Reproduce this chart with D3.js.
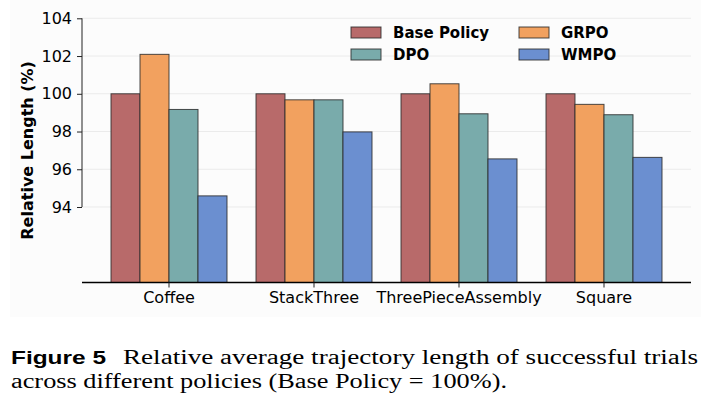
<!DOCTYPE html>
<html>
<head>
<meta charset="utf-8">
<script src="https://cdn.jsdelivr.net/npm/d3@7"></script>
<style>
  body { margin: 0; background: #fff; }
  svg { display: block; }
</style>
</head>
<body>
<div id="chart"></div>
<script>
// Tasks and policies
const tasks = ["Coffee", "StackThree", "ThreePieceAssembly", "Square"];
const policies = ["Base Policy", "GRPO", "DPO", "WMPO"];

// Relative length (%) per policy, one value per task
const basePolicy = [100, 100, 100, 100];
const grpo = [102.09, 99.68, 100.53, 99.44];
const dpo = [99.17, 99.68, 98.94, 98.89];
const wmpo = [94.59, 97.98, 96.55, 96.63];

const yTicks = [94, 96, 98, 100, 102, 104];

const colors = ["#b86a6a", "#f2a15f", "#79abab", "#6b8fd0"];
const seriesValues = [basePolicy, grpo, dpo, wmpo];

// table used for the bars
const tableData = tasks.map((t, i) => ({
    task: t,
    values: policies.map((p, j) => ({ policy: p, value: seriesValues[j][i], color: colors[j] }))
}));

const W = 713, H = 410;
const svg = d3.select("#chart")
    .append("svg")
    .attr("width", W)
    .attr("height", H);

// faint figure background
svg.append("rect")
    .attr("x", 10).attr("y", 0)
    .attr("width", 691).attr("height", 317)
    .attr("fill", "#fcfcfc");

// Plot area
const plotLeft = 82, plotRight = 691, plotTop = 18.3, plotBottom = 282.5;

const x = d3.scaleBand()
    .domain(tasks)
    .range([plotLeft, plotRight])
    .paddingInner(0.2)
    .paddingOuter(0.2);

const xSub = d3.scaleBand()
    .domain(policies)
    .range([0, x.bandwidth()]);

const y = d3.scaleLinear()
    .domain([90, 104])
    .range([plotBottom, plotTop]);

// grid lines
svg.append("g")
    .selectAll("line")
    .data(yTicks)
    .join("line")
    .attr("x1", plotLeft)
    .attr("x2", plotRight)
    .attr("y1", d => y(d))
    .attr("y2", d => y(d))
    .attr("stroke", "#ebebeb")
    .attr("stroke-width", 1);

// Bars
const groups = svg.append("g")
    .selectAll("g")
    .data(tableData)
    .join("g")
    .attr("transform", d => `translate(${x(d.task)},0)`);

groups.selectAll("rect")
    .data(d => d.values)
    .join("rect")
    .attr("x", d => xSub(d.policy))
    .attr("y", d => y(d.value))
    .attr("width", xSub.bandwidth())
    .attr("height", d => y(90) - y(d.value))
    .attr("fill", d => d.color)
    .attr("stroke", "#2b2b2b")
    .attr("stroke-opacity", 0.85)
    .attr("stroke-width", 1);

// Y axis (spine trimmed to 94..104)
const yAxis = svg.append("g")
    .attr("transform", `translate(${plotLeft},0)`)
    .call(d3.axisLeft(y).tickValues(yTicks).tickSize(5).tickPadding(5));
yAxis.select(".domain")
    .attr("d", `M0,${y(94)}V${y(104)}`)
    .attr("stroke", "#222");
yAxis.selectAll(".tick line").attr("stroke", "#222");
yAxis.selectAll("text")
    .attr("font-family", "DejaVu Sans")
    .attr("font-size", 16)
    .attr("fill", "#000");

// X axis
const xAxis = svg.append("g")
    .attr("transform", `translate(0,${plotBottom})`)
    .call(d3.axisBottom(x).tickSize(5).tickPadding(4).tickSizeOuter(0));
xAxis.select(".domain")
    .attr("d", `M${plotLeft},0H${plotRight}`)
    .attr("stroke", "#000")
    .attr("stroke-width", 1.3);
xAxis.selectAll(".tick line").attr("stroke", "#222");
xAxis.selectAll("text")
    .attr("font-family", "DejaVu Sans")
    .attr("font-size", 16)
    .attr("fill", "#000");

// Y label
svg.append("text")
    .attr("transform", `translate(33,${(plotTop + plotBottom) / 2}) rotate(-90)`)
    .attr("text-anchor", "middle")
    .attr("font-family", "DejaVu Sans")
    .attr("font-weight", "bold")
    .attr("font-size", 16)
    .text("Relative Length (%)");

// Legend (2 columns)
const legend = svg.append("g")
    .selectAll("g")
    .data(policies)
    .join("g")
    .attr("transform", (d, i) => `translate(${351 + (i % 2) * 168},${27 + Math.floor(i / 2) * 22})`);

legend.append("rect")
    .attr("width", 30)
    .attr("height", 11)
    .attr("fill", (d, i) => colors[i])
    .attr("stroke", "#2b2b2b")
    .attr("stroke-opacity", 0.85);

legend.append("text")
    .attr("x", 42)
    .attr("y", 6)
    .attr("dy", "0.35em")
    .attr("font-family", "DejaVu Sans")
    .attr("font-weight", "bold")
    .attr("font-size", 15)
    .text(d => d);

// Caption
svg.append("text")
    .attr("x", 11)
    .attr("y", 364)
    .attr("font-family", "Liberation Sans")
    .attr("font-weight", "bold")
    .attr("font-size", 19)
    .attr("textLength", 95)
    .attr("lengthAdjust", "spacingAndGlyphs")
    .text("Figure 5");

svg.append("text")
    .attr("x", 123)
    .attr("y", 364)
    .attr("font-family", "Liberation Serif")
    .attr("font-size", 20)
    .attr("textLength", 575)
    .attr("lengthAdjust", "spacingAndGlyphs")
    .text("Relative average trajectory length of successful trials");

svg.append("text")
    .attr("x", 11)
    .attr("y", 388)
    .attr("font-family", "Liberation Serif")
    .attr("font-size", 20)
    .attr("textLength", 496)
    .attr("lengthAdjust", "spacingAndGlyphs")
    .text("across different policies (Base Policy = 100%).");
</script>
</body>
</html>
